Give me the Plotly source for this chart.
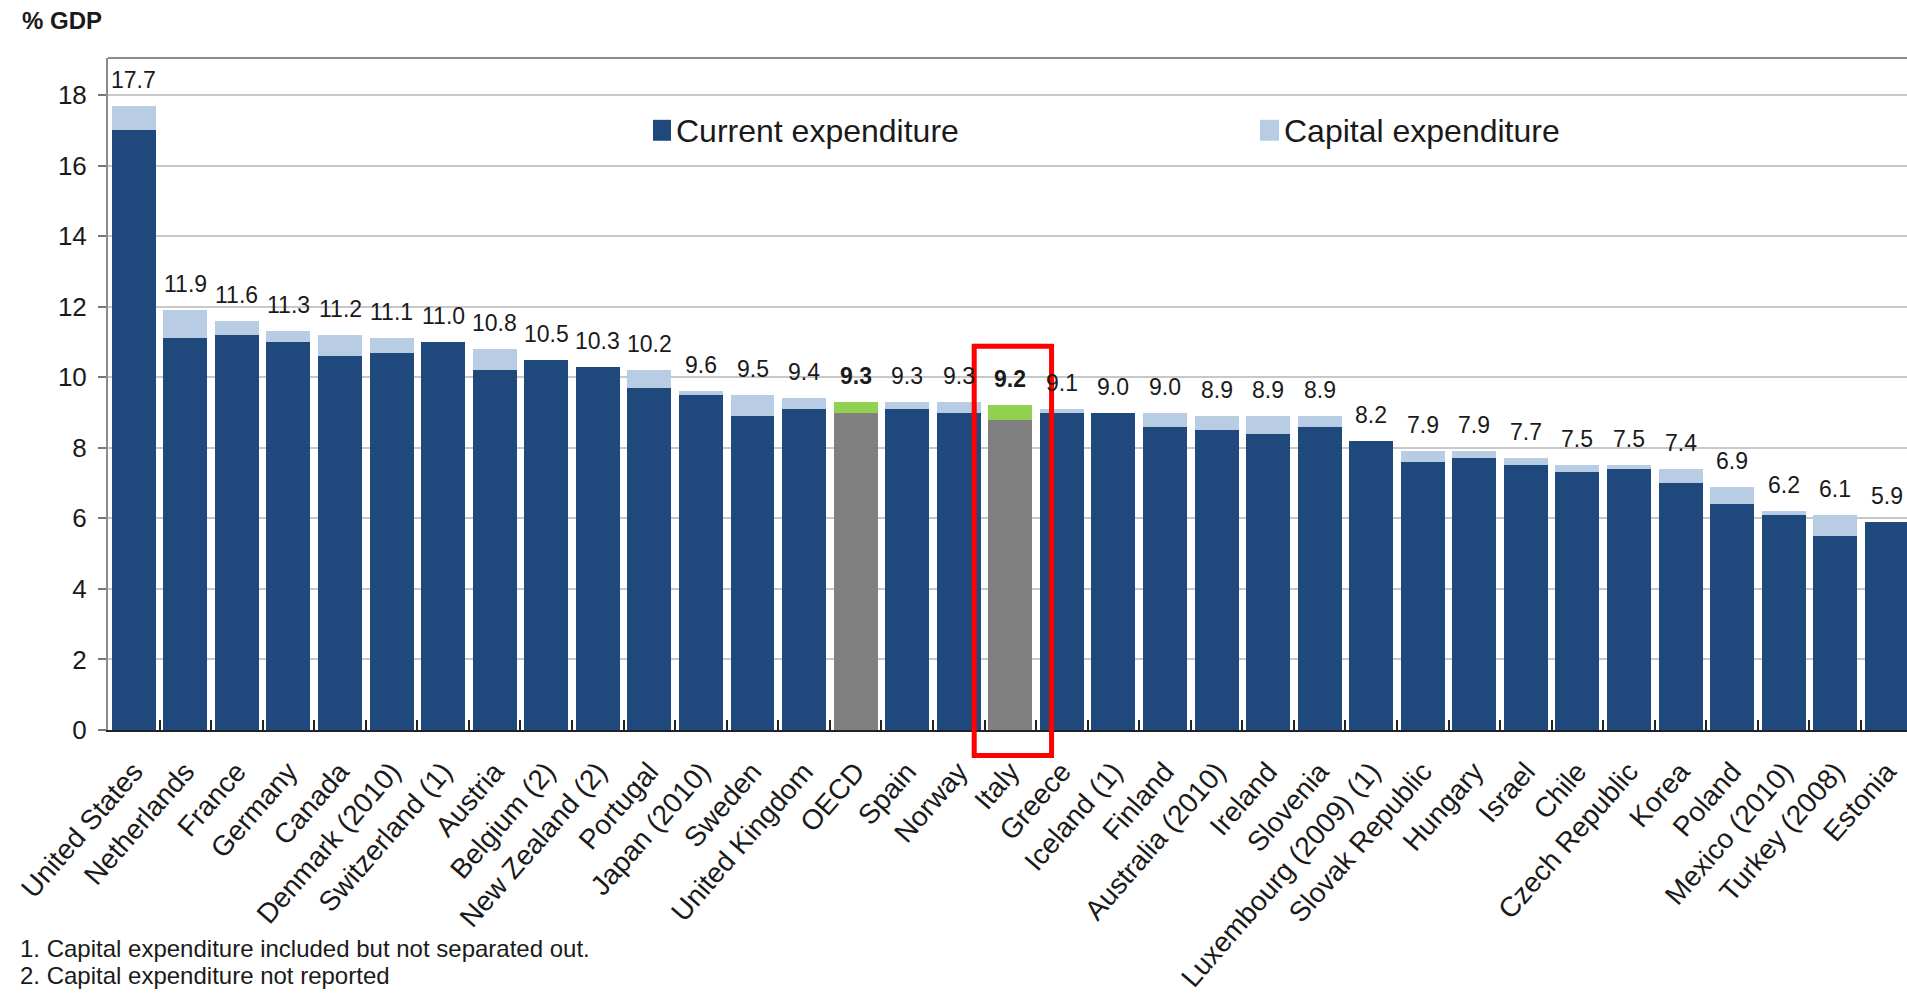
import plotly.graph_objects as go

# Public spending on education by country, % of GDP
countries = [
    "United States", "Netherlands", "France", "Germany", "Canada",
    "Denmark (2010)", "Switzerland (1)", "Austria", "Belgium (2)",
    "New Zealand (2)", "Portugal", "Japan (2010)", "Sweden",
    "United Kingdom", "OECD", "Spain", "Norway", "Italy", "Greece",
    "Iceland (1)", "Finland", "Australia (2010)", "Ireland", "Slovenia",
    "Luxembourg (2009) (1)", "Slovak Republic", "Hungary", "Israel",
    "Chile", "Czech Republic", "Korea", "Poland", "Mexico (2010)",
    "Turkey (2008)", "Estonia",
]
current = [
    17.0, 11.1, 11.2, 11.0, 10.6, 10.7, 11.0, 10.2, 10.5, 10.3,
    9.7, 9.5, 8.9, 9.1, 9.0, 9.1, 9.0, 8.8, 9.0, 9.0,
    8.6, 8.5, 8.4, 8.6, 8.2, 7.6, 7.7, 7.5, 7.3, 7.4,
    7.0, 6.4, 6.1, 5.5, 5.9,
]
capital = [
    0.7, 0.8, 0.4, 0.3, 0.6, 0.4, 0.0, 0.6, 0.0, 0.0,
    0.5, 0.1, 0.6, 0.3, 0.3, 0.2, 0.3, 0.4, 0.1, 0.0,
    0.4, 0.4, 0.5, 0.3, 0.0, 0.3, 0.2, 0.2, 0.2, 0.1,
    0.4, 0.5, 0.1, 0.6, 0.0,
]
highlighted = ["OECD", "Italy"]
boxed = "Italy"
y_ticks = [0, 2, 4, 6, 8, 10, 12, 14, 16, 18]
footnotes = [
    "1. Capital expenditure included but not separated out.",
    "2. Capital expenditure not reported",
]

NAVY = "#1F497D"
LIGHT = "#B8CCE4"
GREY = "#808080"
GREEN = "#92D050"
FONT = "Liberation Sans, Arial, sans-serif"

W, H = 1907, 993
ML, MT, MB = 108, 58, 261
plot_w = W - ML
plot_h = H - MT - MB
band = 51.56
x_range = [-0.5, -0.5 + plot_w / band]
y_range = [0, 19.05]


def paper_x_px(px):
    return (px - ML) / plot_w


def paper_y_px(py):
    return (H - MB - py) / plot_h


def paper_x_val(v):
    return (v - x_range[0]) / (x_range[1] - x_range[0])


def paper_y_val(v):
    return (v - y_range[0]) / (y_range[1] - y_range[0])


cur_colors = [GREY if c in highlighted else NAVY for c in countries]
cap_colors = [GREEN if c in highlighted else LIGHT for c in countries]

fig = go.Figure()
fig.add_trace(go.Bar(
    x=countries, y=current, name="Current expenditure",
    marker=dict(color=cur_colors, line=dict(width=0)),
    showlegend=False, hoverinfo="x+y",
))
fig.add_trace(go.Bar(
    x=countries, y=capital, name="Capital expenditure",
    marker=dict(color=cap_colors, line=dict(width=0)),
    showlegend=False, hoverinfo="x+y",
))

annotations = []
# total value above each stacked bar
for c, a, b in zip(countries, current, capital):
    total = round(a + b, 1)
    txt = f"{total:.1f}"
    if c in highlighted:
        txt = f"<b>{txt}</b>"
    annotations.append(dict(
        x=c, y=total, xref="x", yref="y", text=txt, showarrow=False,
        yanchor="bottom", xanchor="center", yshift=11,
        font=dict(family=FONT, size=23, color="#1a1a1a"),
    ))

# axis unit
annotations.append(dict(
    x=paper_x_px(20), y=paper_y_px(20), xref="paper", yref="paper",
    text="<b>% GDP</b>", showarrow=False, xanchor="left", yanchor="middle",
    font=dict(family=FONT, size=24, color="#1a1a1a"),
))

# footnotes
for i, note in enumerate(footnotes):
    annotations.append(dict(
        x=paper_x_px(18), y=paper_y_px(951 + i * 27), xref="paper", yref="paper",
        text=note, showarrow=False, xanchor="left", yanchor="middle",
        font=dict(family=FONT, size=24, color="#1a1a1a"),
    ))

shapes = []
# legend keys and labels
legend_items = [
    ("Current expenditure", NAVY, 653, 671),
    ("Capital expenditure", LIGHT, 1260, 1279),
]
for label, color, x0, x1 in legend_items:
    shapes.append(dict(
        type="rect", xref="paper", yref="paper",
        x0=paper_x_px(x0), x1=paper_x_px(x1),
        y0=paper_y_px(141), y1=paper_y_px(120),
        fillcolor=color, line=dict(width=0),
    ))
    annotations.append(dict(
        x=paper_x_px(x1 + 3), y=paper_y_px(131), xref="paper", yref="paper",
        text=label, showarrow=False, xanchor="left", yanchor="middle",
        font=dict(family=FONT, size=32, color="#1a1a1a"),
    ))

# top frame line
shapes.append(dict(
    type="line", xref="paper", yref="paper", x0=0, x1=1, y0=1, y1=1,
    line=dict(color="#8c8c8c", width=2),
))

# red box around the highlighted country
bi = countries.index(boxed)
shapes.append(dict(
    type="rect", xref="paper", yref="paper",
    x0=paper_x_val(bi - 0.7), x1=paper_x_val(bi + 0.8),
    y0=paper_y_val(-0.72), y1=paper_y_val(10.88),
    line=dict(color="#FF0000", width=5), fillcolor="rgba(0,0,0,0)",
))

fig.update_layout(
    width=W, height=H,
    margin=dict(l=ML, r=0, t=MT, b=MB, pad=0),
    paper_bgcolor="white", plot_bgcolor="white",
    barmode="stack", bargap=0.147,
    showlegend=False,
    annotations=annotations, shapes=shapes,
    xaxis=dict(
        type="category", range=x_range, tickson="boundaries",
        ticks="inside", ticklen=10, tickwidth=2, tickcolor="#222",
        showline=True, linecolor="#222", linewidth=2,
        showgrid=False, tickangle=-49, ticklabelstandoff=12,
        tickfont=dict(family=FONT, size=28, color="#1a1a1a"),
    ),
    yaxis=dict(
        range=y_range, tickvals=y_ticks, ticks="outside", ticklen=8,
        tickwidth=2, tickcolor="#777", showline=True, linecolor="#8c8c8c",
        linewidth=2, showgrid=True, gridcolor="#C8C8C8", gridwidth=2,
        zeroline=False, ticklabelstandoff=6,
        tickfont=dict(family=FONT, size=26, color="#1a1a1a"),
    ),
)

fig.write_html("out.html")
